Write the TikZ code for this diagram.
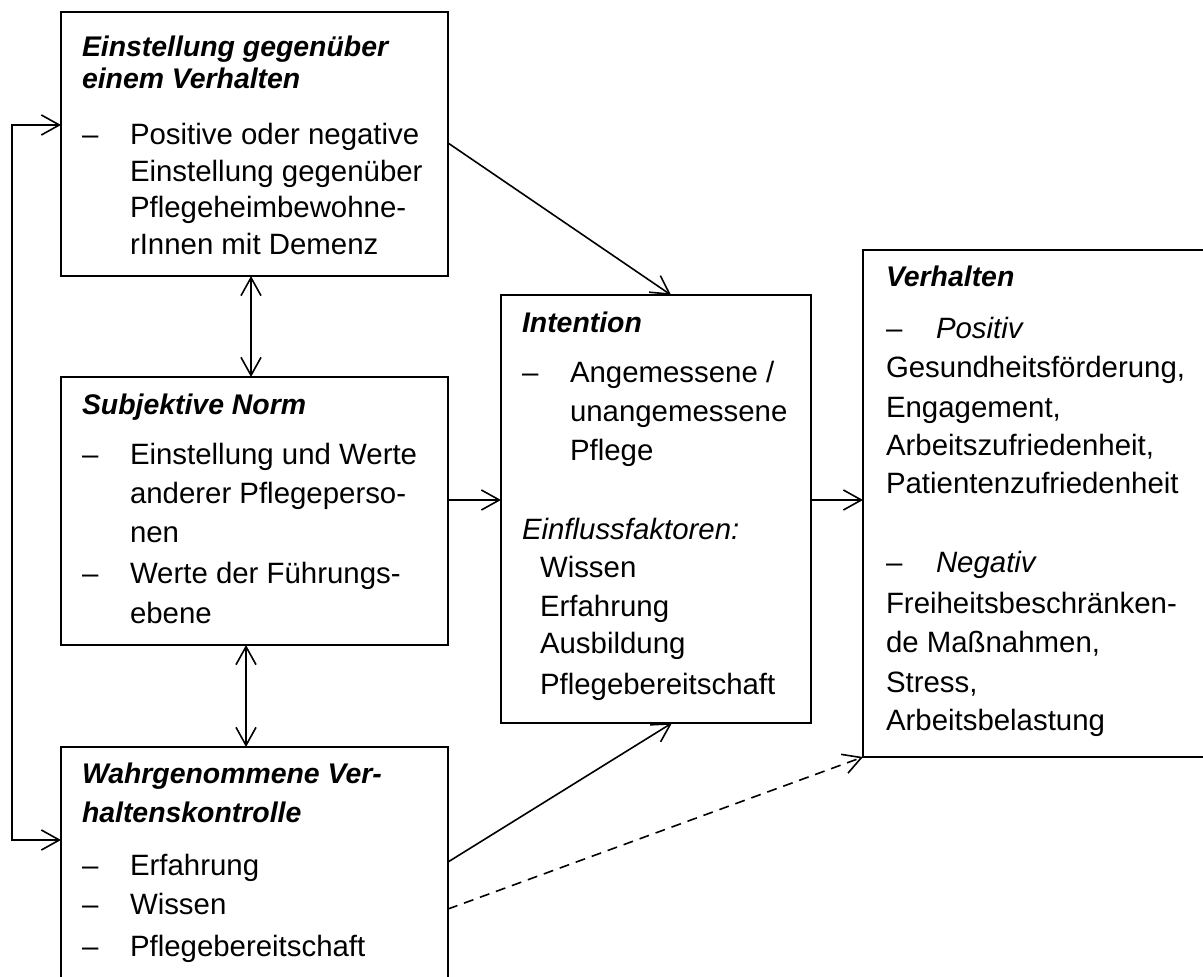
\documentclass[tikz,border=0pt]{standalone}
\usepackage{fontspec}
\setmainfont{Liberation Sans}
\usetikzlibrary{arrows.meta}
\begin{document}
\begin{tikzpicture}[x=0.5pt,y=-0.5pt,
  box/.style={draw, line width=0.95pt, inner sep=0pt, outer sep=0pt, anchor=north west},
  txt/.style={inner sep=0pt, outer sep=0pt, anchor=base west, font=\fontsize{14.7pt}{17pt}\selectfont},
  head/.style={txt, font=\fontsize{14.2pt}{17pt}\selectfont\bfseries\itshape},
  emph/.style={txt, font=\fontsize{14.7pt}{17pt}\selectfont\itshape},
  barb/.tip={Straight Barb[length=9pt,width=10pt,line width=0.8pt]},
  link/.style={line width=0.8pt, -barb},
  both/.style={line width=0.8pt, barb-barb},
  hint/.style={link, dash pattern=on 5pt off 3.5pt},
]
\useasboundingbox (0,0) rectangle (1203,977);
\clip (0,0) rectangle (1203,977);

% boxes
\node[box, minimum width=193.5pt, minimum height=132pt] (A) at (61,12) {};
\node[box, minimum width=193.5pt, minimum height=134pt] (B) at (61,377) {};
\node[box, minimum width=193.5pt, minimum height=124pt] (C) at (61,747) {};
\node[box, minimum width=155pt,   minimum height=214pt] (D) at (501,295) {};
\node[box, minimum width=178.5pt, minimum height=253.5pt] (E) at (863,250) {};

% attitude
\node[head] (a1) at (82,57) {Einstellung gegenüber};
\node[head] (a2) at (82,89) {einem Verhalten};
\node[txt] (a3) at (82,145) {–};
\node[txt] (a4) at (130,145) {Positive oder negative};
\node[txt] (a5) at (130,182) {Einstellung gegenüber};
\node[txt] (a6) at (130,218) {Pflegeheimbewohne-};
\node[txt] (a7) at (130,255) {rInnen mit Demenz};

% subjective norm
\node[head] (b1) at (82,415) {Subjektive Norm};
\node[txt] (b2) at (82,465) {–};
\node[txt] (b3) at (130,465) {Einstellung und Werte};
\node[txt] (b4) at (130,504) {anderer Pflegeperso-};
\node[txt] (b5) at (130,543) {nen};
\node[txt] (b6) at (82,583) {–};
\node[txt] (b7) at (130,583) {Werte der Führungs-};
\node[txt] (b8) at (130,623) {ebene};

% perceived behavioural control
\node[head] (c1) at (82,783) {Wahrgenommene Ver-};
\node[head] (c2) at (82,822) {haltenskontrolle};
\node[txt] (c3) at (82,875) {–};
\node[txt] (c4) at (130,875) {Erfahrung};
\node[txt] (c5) at (82,914) {–};
\node[txt] (c6) at (130,914) {Wissen};
\node[txt] (c7) at (82,956) {–};
\node[txt] (c8) at (130,956) {Pflegebereitschaft};

% intention
\node[head] (d1) at (522,333) {Intention};
\node[txt] (d2) at (522,383) {–};
\node[txt] (d3) at (570,383) {Angemessene /};
\node[txt] (d4) at (570,422) {unangemessene};
\node[txt] (d5) at (570,461) {Pflege};
\node[emph] (d6) at (522,539) {Einflussfaktoren:};
\node[txt] (d7) at (540,577) {Wissen};
\node[txt] (d8) at (540,617) {Erfahrung};
\node[txt] (d9) at (540,653) {Ausbildung};
\node[txt] (d10) at (540,694) {Pflegebereitschaft};

% behaviour
\node[head] (e1) at (886,287) {Verhalten};
\node[txt] (e2) at (886,339) {–};
\node[emph] (e3) at (936,339) {Positiv};
\node[txt] (e4) at (886,378) {Gesundheitsförderung,};
\node[txt] (e5) at (886,418) {Engagement,};
\node[txt] (e6) at (886,456) {Arbeitszufriedenheit,};
\node[txt] (e7) at (886,494) {Patientenzufriedenheit};
\node[txt] (e8) at (886,573) {–};
\node[emph] (e9) at (936,573) {Negativ};
\node[txt] (e10) at (886,613) {Freiheitsbeschränken-};
\node[txt] (e11) at (886,652) {de Maßnahmen,};
\node[txt] (e12) at (886,692) {Stress,};
\node[txt] (e13) at (886,730) {Arbeitsbelastung};

% connectors
\draw[link] (A.east |- 0,143) -- (D.north -| 671,0);
\draw[link] (B.east |- 0,500) -- (D.west |- 0,500);
\draw[link] (D.east |- 0,500) -- (E.west |- 0,500);
\draw[link] (C.east |- 0,862) -- (D.south -| 672,0);
\draw[hint] (C.east |- 0,909) -- (E.south west);
\draw[both] (A.south -| 251,0) -- (B.north -| 251,0);
\draw[both] (B.south -| 246,0) -- (C.north -| 246,0);
\coordinate (fbTop) at (12,125);
\coordinate (fbBot) at (12,840);
\draw[both] (A.west |- fbTop) -- (fbTop) -- (fbBot) -- (C.west |- fbBot);
\end{tikzpicture}
\end{document}
